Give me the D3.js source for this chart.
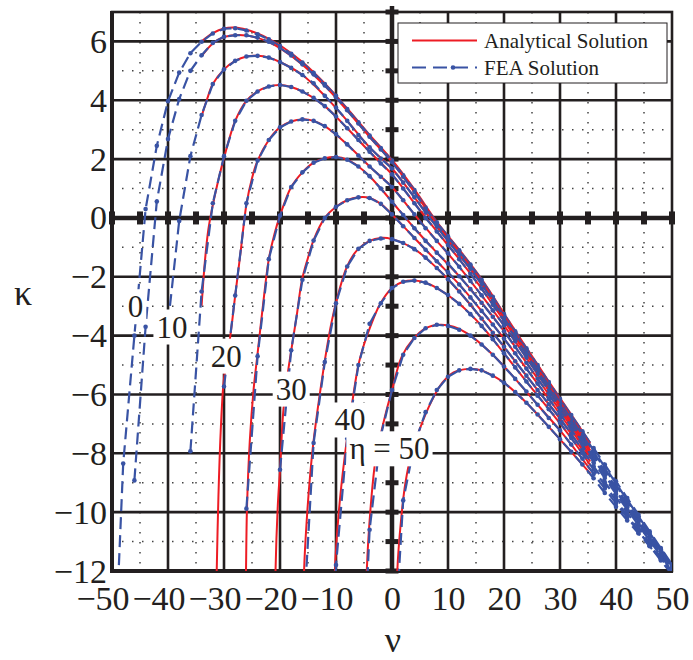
<!DOCTYPE html>
<html>
<head>
<meta charset="utf-8">
<script src="https://cdnjs.cloudflare.com/ajax/libs/d3/7.8.5/d3.min.js"></script>
<style>
  body { margin: 0; background: #fff; }
  svg text { font-family: "Liberation Serif", "Times New Roman", serif; fill: #231f20; }
</style>
</head>
<body>
<div id="chart"></div>
<script>
// eta values of the family of curves
var etaValues = [0, 5, 10, 15, 20, 25, 30, 35, 40, 45, 50];
var curveLabels = ["0", "10", "20", "30", "40", "\u03b7 = 50"];
var xTicks = [-50, -40, -30, -20, -10, 0, 10, 20, 30, 40, 50];
var yTicks = [-12, -10, -8, -6, -4, -2, 0, 2, 4, 6];
var legendNames = ["Analytical Solution", "FEA Solution"];

// FEA solution, sampled on a fixed nu grid (null = no point)
var nuFEA = [-50, -48, -46, -44, -42, -40, -38, -36, -34, -32, -30, -28, -26, -24, -22, -20, -18, -16, -14, -12, -10, -8, -6, -4, -2,
             0, 2, 4, 6, 8, 10, 12, 14, 16, 18, 20, 22, 24, 26, 28, 30, 32, 34, 36, 38, 40, 42, 44, 46, 48, 50];

var feaEta0 = [-17.3, -8.35, -4.0, 0.3, 2.45, 3.97, 4.94, 5.6, 5.99, 6.27, 6.43, 6.45, 6.37, 6.24, 6.07, 5.84, 5.58, 5.28, 4.93, 4.55, 4.15, 3.7, 3.25, 2.8, 2.38,
               1.95, 1.45, 0.95, 0.35, -0.15, -0.62, -1.1, -1.58, -2.1, -2.68, -3.27, -3.85, -4.43, -5.0, -5.58, -6.15, -6.7, -7.25, -7.82, -8.38, -8.95, -9.52, -10.08, -10.65, -11.22, -11.78];
var feaEta5 = [null, null, -8.92, -3.7, 0.56, 2.68, 4.04, 5.0, 5.53, 5.95, 6.16, 6.21, 6.21, 6.13, 5.99, 5.78, 5.52, 5.22, 4.88, 4.5, 4.1, 3.66, 3.21, 2.76, 2.33,
               1.9, 1.4, 0.88, 0.3, -0.2, -0.67, -1.15, -1.63, -2.16, -2.74, -3.33, -3.91, -4.49, -5.07, -5.64, -6.22, -6.77, -7.32, -7.9, -8.46, -9.02, -9.58, -10.14, -10.7, -11.26, -11.8];
var feaEta10 = [null, null, null, null, null, -3.6, -0.1, 2.1, 3.5, 4.55, 5.05, 5.34, 5.49, 5.51, 5.45, 5.3, 5.1, 4.86, 4.58, 4.15, 3.75, 3.3, 2.82, 2.4, 2.02,
                1.68, 1.2, 0.7, 0.18, -0.3, -0.78, -1.25, -1.73, -2.25, -2.82, -3.4, -3.98, -4.56, -5.13, -5.7, -6.28, -6.83, -7.38, -7.96, -8.52, -9.08, -9.63, -10.19, -10.74, -11.3, -11.83];
var feaEta15 = [null, null, null, null, null, null, null, -7.93, -2.5, 0.5, 2.1, 3.3, 3.98, 4.3, 4.47, 4.52, 4.45, 4.3, 4.08, 3.8, 3.45, 3.05, 2.65, 2.25, 1.85,
                1.48, 1.0, 0.5, 0.0, -0.46, -0.92, -1.4, -1.9, -2.4, -2.95, -3.5, -4.06, -4.63, -5.2, -5.78, -6.36, -6.92, -7.48, -8.05, -8.6, -9.15, -9.7, -10.25, -10.8, -11.35, -11.88];
var feaEta20 = [null, null, null, null, null, null, null, null, null, null, -5.73, -2.64, 0.5, 1.95, 2.65, 3.08, 3.28, 3.35, 3.3, 3.12, 2.85, 2.5, 2.12, 1.75, 1.4,
                1.05, 0.6, 0.12, -0.35, -0.78, -1.2, -1.66, -2.14, -2.63, -3.14, -3.65, -4.2, -4.75, -5.3, -5.87, -6.45, -7.0, -7.55, -8.12, -8.67, -9.22, -9.77, -10.31, -10.85, -11.39, -11.92];
var feaEta25 = [null, null, null, null, null, null, null, null, null, null, null, null, -9.88, -4.7, -1.4, 0.08, 1.05, 1.55, 1.88, 2.03, 2.07, 1.98, 1.75, 1.42, 1.0,
                0.55, 0.1, -0.35, -0.78, -1.18, -1.55, -1.98, -2.42, -2.88, -3.36, -3.85, -4.38, -4.92, -5.46, -6.0, -6.55, -7.09, -7.63, -8.2, -8.75, -9.29, -9.83, -10.37, -10.9, -11.43, -11.96];
var feaEta30 = [null, null, null, null, null, null, null, null, null, null, null, null, null, null, null, -8.56, -4.5, -2.1, -0.77, 0.0, 0.38, 0.6, 0.7, 0.68, 0.48,
                0.12, -0.28, -0.68, -1.08, -1.47, -1.85, -2.26, -2.7, -3.16, -3.62, -4.1, -4.6, -5.12, -5.63, -6.15, -6.66, -7.2, -7.74, -8.3, -8.84, -9.38, -9.91, -10.44, -10.96, -11.48, -12.0];
var feaEta35 = [null, null, null, null, null, null, null, null, null, null, null, null, null, null, null, null, null, -14.3, -7.65, -4.9, -2.9, -1.65, -1.05, -0.78, -0.7,
                -0.72, -0.85, -1.06, -1.35, -1.7, -2.08, -2.5, -2.95, -3.42, -3.9, -4.38, -4.87, -5.36, -5.85, -6.33, -6.8, -7.34, -7.88, -8.44, -8.98, -9.5, -10.02, -10.53, -11.04, -11.54, -12.05];
var feaEta40 = [null, null, null, null, null, null, null, null, null, null, null, null, null, null, null, null, null, null, null, -20, -11.8, -7.5, -5.0, -3.6, -2.9,
                -2.38, -2.17, -2.13, -2.2, -2.38, -2.62, -2.92, -3.27, -3.67, -4.12, -4.6, -5.08, -5.56, -6.04, -6.5, -6.96, -7.48, -8.0, -8.55, -9.08, -9.6, -10.12, -10.63, -11.14, -11.64, -12.12];
var feaEta45 = [null, null, null, null, null, null, null, null, null, null, null, null, null, null, null, null, null, null, null, null, null, null, -19, -10.6, -7.4,
                -5.85, -4.65, -4.08, -3.75, -3.63, -3.67, -3.8, -4.0, -4.3, -4.65, -5.05, -5.47, -5.9, -6.35, -6.8, -7.22, -7.7, -8.18, -8.7, -9.2, -9.7, -10.18, -10.65, -11.12, -11.58, -12.05];
var feaEta50 = [null, null, null, null, null, null, null, null, null, null, null, null, null, null, null, null, null, null, null, null, null, null, null, null, null,
                -16, -9.6, -7.7, -6.6, -5.85, -5.4, -5.18, -5.13, -5.18, -5.36, -5.6, -5.92, -6.28, -6.68, -7.1, -7.52, -7.95, -8.38, -8.85, -9.35, -9.82, -10.28, -10.72, -11.16, -11.58, -12.0];

// analytical solution, [nu, kappa] pairs
var anaEta0 = [[-34, 6.0], [-32, 6.28], [-30, 6.44], [-28, 6.47], [-26, 6.4], [-24, 6.27], [-22, 6.09], [-20, 5.87], [-16, 5.3], [-12, 4.57], [-8, 3.72], [-4, 2.82], [0, 1.97], [4, 0.97], [8, -0.13], [12, -1.08], [16, -2.08], [20, -3.25], [24, -4.41], [28, -5.56], [32, -6.68], [35.4, -7.65]];
var anaEta5 = [[-34, 5.5], [-32, 5.93], [-30, 6.15], [-28, 6.21], [-26, 6.2], [-24, 6.12], [-22, 5.98], [-20, 5.77], [-16, 5.21], [-12, 4.49], [-8, 3.65], [-4, 2.75], [0, 1.9], [4, 0.88], [8, -0.2], [12, -1.15], [16, -2.16], [20, -3.33], [24, -4.49], [28, -5.64], [32, -6.77], [35.4, -7.72]];
var anaEta10 = [[-34, 3.45], [-33, 4.05], [-32, 4.55], [-30, 5.05], [-28, 5.34], [-26, 5.49], [-24, 5.51], [-22, 5.45], [-20, 5.3], [-16, 4.86], [-12, 4.15], [-8, 3.3], [-4, 2.4], [0, 1.68], [4, 0.7], [8, -0.3], [12, -1.25], [16, -2.25], [20, -3.4], [24, -4.56], [28, -5.7], [32, -6.83], [35.4, -7.8]];
var anaEta15 = [[-34, -2.98], [-33.4, -1.45], [-32.8, -0.4], [-32.2, 0.25], [-31, 1.3], [-29.9, 2.11], [-28, 3.3], [-26, 3.98], [-24, 4.3], [-22, 4.47], [-20, 4.52], [-18, 4.45], [-16, 4.3], [-12, 3.8], [-8, 3.05], [-4, 2.25], [0, 1.48], [4, 0.5], [8, -0.46], [12, -1.4], [16, -2.4], [20, -3.5], [24, -4.63], [28, -5.78], [32, -6.92], [35.4, -7.9]];
var anaEta20 = [[-31.5, -14], [-31.3, -12], [-31.0, -9.5], [-30.6, -7.3], [-30.1, -5.64], [-29.5, -4.75], [-28.9, -4.05], [-28, -2.64], [-27, -1.1], [-26, 0.45], [-25, 1.35], [-24, 1.95], [-22, 2.65], [-20, 3.08], [-18, 3.28], [-16, 3.35], [-14, 3.3], [-12, 3.12], [-8, 2.5], [-4, 1.75], [0, 1.05], [4, 0.12], [8, -0.78], [12, -1.66], [16, -2.63], [20, -3.65], [24, -4.75], [28, -5.87], [32, -7.0], [35.4, -7.98]];
var anaEta25 = [[-26.2, -14], [-26.07, -12], [-25.9, -9.9], [-25.4, -7.6], [-24.7, -5.8], [-24, -4.6], [-23, -2.9], [-22, -1.4], [-21, -0.55], [-20, 0.08], [-18, 1.05], [-16, 1.55], [-14, 1.88], [-12, 2.03], [-10, 2.07], [-8, 1.98], [-6, 1.75], [-4, 1.42], [-2, 1.0], [0, 0.55], [4, -0.35], [8, -1.18], [12, -1.98], [16, -2.88], [20, -3.85], [24, -4.92], [28, -6.0], [32, -7.09], [35.4, -8.08]];
var anaEta30 = [[-20.9, -14], [-20.8, -12], [-20.4, -9.8], [-20, -8.56], [-19.4, -6.54], [-18.7, -5.4], [-17.9, -4.39], [-17, -3.3], [-16.1, -2.13], [-15, -1.35], [-14, -0.75], [-12, 0.0], [-10, 0.38], [-8, 0.6], [-6, 0.7], [-4, 0.68], [-2, 0.48], [0, 0.12], [4, -0.68], [8, -1.47], [12, -2.26], [16, -3.16], [20, -4.1], [24, -5.12], [28, -6.15], [32, -7.2], [35.4, -8.15]];
var anaEta35 = [[-15.8, -14], [-15.7, -12], [-15.2, -10.2], [-14.6, -8.7], [-14.05, -7.65], [-12.9, -6.0], [-11.7, -4.5], [-10.8, -3.55], [-9.9, -2.81], [-8.1, -1.68], [-6.3, -1.11], [-4, -0.78], [-2, -0.68], [0, -0.72], [4, -1.06], [8, -1.7], [12, -2.5], [16, -3.42], [20, -4.38], [24, -5.36], [28, -6.33], [32, -7.34], [35.4, -8.28]];
var anaEta40 = [[-10.3, -14], [-10.2, -12], [-9.5, -10], [-8.5, -8.2], [-7.2, -6.4], [-6, -5.0], [-5, -4.3], [-3.9, -3.71], [-2.1, -2.92], [0, -2.38], [2, -2.17], [4, -2.13], [6, -2.2], [8, -2.38], [12, -2.92], [16, -3.67], [20, -4.6], [24, -5.56], [28, -6.5], [32, -7.48], [35.4, -8.4]];
var anaEta45 = [[-4.6, -14], [-4.5, -12], [-3.8, -9.8], [-3, -8.3], [-2, -7.35], [-1, -6.55], [0, -5.85], [1.7, -4.73], [3.8, -4.11], [6, -3.75], [8.6, -3.63], [11, -3.7], [14, -4.0], [18, -4.65], [22, -5.47], [26, -6.35], [30, -7.22], [33, -7.95], [35.4, -8.55]];
var anaEta50 = [[0.85, -14], [0.95, -12], [1.6, -10.3], [2.4, -9.0], [3.5, -8.0], [5, -7.15], [7, -6.25], [9, -5.6], [11, -5.25], [13.6, -5.13], [16, -5.18], [18, -5.36], [20, -5.6], [24, -6.28], [28, -7.1], [32, -7.95], [35.4, -8.68]];

var feaSeries = [feaEta0, feaEta5, feaEta10, feaEta15, feaEta20, feaEta25, feaEta30, feaEta35, feaEta40, feaEta45, feaEta50];
var anaSeries = [anaEta0, anaEta5, anaEta10, anaEta15, anaEta20, anaEta25, anaEta30, anaEta35, anaEta40, anaEta45, anaEta50];

var width = 693,
    height = 660;

var ink = "#231f20",
    red = "#ed1c24",
    blue = "#3953a4",
    serif = "'Liberation Serif', 'Times New Roman', serif";

var x = d3.scaleLinear().domain([-50, 50]).range([112, 672]);
var y = d3.scaleLinear().domain([-12, 7]).range([571, 12]);

var svg = d3.select("#chart")
    .append("svg")
    .attr("width", width)
    .attr("height", height);

svg.append("rect").attr("width", width).attr("height", height).attr("fill", "#fff");

// dotted minor grid
var xMinor = d3.range(-45, 50, 10),
    yMinor = d3.range(-11, 7, 2);
var grid = svg.append("g");
grid.selectAll(".vminor").data(xMinor).enter().append("line")
    .attr("x1", function(d) { return x(d); }).attr("x2", function(d) { return x(d); })
    .attr("y1", y(7)).attr("y2", y(-12))
    .attr("stroke", "#444").attr("stroke-width", 1.5).attr("stroke-dasharray", "1.5,8.5");
grid.selectAll(".hminor").data(yMinor).enter().append("line")
    .attr("x1", x(-50)).attr("x2", x(50))
    .attr("y1", function(d) { return y(d); }).attr("y2", function(d) { return y(d); })
    .attr("stroke", "#444").attr("stroke-width", 1.5).attr("stroke-dasharray", "1.5,8.5");

// solid major grid
var xMajor = [-40, -30, -20, -10, 10, 20, 30, 40],
    yMajor = [-10, -8, -6, -4, -2, 2, 4, 6];
grid.selectAll(".vmajor").data(xMajor).enter().append("line")
    .attr("x1", function(d) { return x(d); }).attr("x2", function(d) { return x(d); })
    .attr("y1", y(7)).attr("y2", y(-12))
    .attr("stroke", ink).attr("stroke-width", 2.6);
grid.selectAll(".hmajor").data(yMajor).enter().append("line")
    .attr("x1", x(-50)).attr("x2", x(50))
    .attr("y1", function(d) { return y(d); }).attr("y2", function(d) { return y(d); })
    .attr("stroke", ink).attr("stroke-width", 2.6);

// frame
svg.append("rect")
    .attr("x", x(-50)).attr("y", y(7))
    .attr("width", x(50) - x(-50)).attr("height", y(-12) - y(7))
    .attr("fill", "none").attr("stroke", ink).attr("stroke-width", 2.6);
svg.append("line").attr("x1", x(-50)).attr("x2", x(-50)).attr("y1", y(7) - 1).attr("y2", y(-12) + 2)
    .attr("stroke", ink).attr("stroke-width", 4);
svg.append("line").attr("x1", x(-50) - 2).attr("x2", x(50) + 1).attr("y1", y(-12)).attr("y2", y(-12))
    .attr("stroke", ink).attr("stroke-width", 4);

// axes through the origin with their tick bars
var axes = svg.append("g");
axes.append("line").attr("x1", x(0)).attr("x2", x(0)).attr("y1", y(7) - 6).attr("y2", y(-12))
    .attr("stroke", ink).attr("stroke-width", 4.5);
axes.append("line").attr("x1", x(-50)).attr("x2", x(50) + 2).attr("y1", y(0)).attr("y2", y(0))
    .attr("stroke", ink).attr("stroke-width", 4.5);
axes.selectAll(".ytick").data(d3.range(-12, 8, 1)).enter().append("rect")
    .attr("x", x(0) - 6.5).attr("y", function(d) { return y(d) - 2.5; })
    .attr("width", 13).attr("height", 5).attr("fill", ink);
axes.selectAll(".xtick").data(d3.range(-50, 51, 5)).enter().append("rect")
    .attr("x", function(d) { return x(d) - 3; }).attr("y", y(0) - 6.5)
    .attr("width", 6).attr("height", 13).attr("fill", ink);

// curves
svg.append("clipPath").attr("id", "plotclip")
  .append("rect")
    .attr("x", x(-50)).attr("y", y(7))
    .attr("width", x(50) - x(-50)).attr("height", y(-12) - y(7));

var plot = svg.append("g").attr("clip-path", "url(#plotclip)");

var anaLine = d3.line()
    .x(function(d) { return x(d[0]); })
    .y(function(d) { return y(d[1]); })
    .curve(d3.curveCatmullRom.alpha(0.5));

var feaLine = d3.line()
    .defined(function(d) { return d[1] !== null; })
    .x(function(d) { return x(d[0]); })
    .y(function(d) { return y(d[1]); });

etaValues.forEach(function(eta, i) {
    var pts = nuFEA.map(function(nu, j) { return [nu, feaSeries[i][j]]; });

    plot.append("path")
        .attr("d", anaLine(anaSeries[i]))
        .attr("fill", "none")
        .attr("stroke", red)
        .attr("stroke-width", 2);

    plot.append("path")
        .attr("d", feaLine(pts))
        .attr("fill", "none")
        .attr("stroke", blue)
        .attr("stroke-width", 2.2)
        .attr("stroke-dasharray", "12,6");

    plot.selectAll(null)
        .data(pts.filter(function(d) { return d[1] !== null; }))
        .enter().append("circle")
        .attr("cx", function(d) { return x(d[0]); })
        .attr("cy", function(d) { return y(d[1]); })
        .attr("r", 2.3)
        .attr("fill", blue);
});

// curve labels on white boxes
var labelAt = [[-45.8, -3.0], [-39.3, -3.69], [-29.6, -4.68], [-18.0, -5.8], [-7.5, -6.85], [-0.45, -7.83]];
curveLabels.forEach(function(txt, i) {
    var g = svg.append("g");
    var t = g.append("text")
        .attr("x", x(labelAt[i][0]))
        .attr("y", y(labelAt[i][1]) + 11)
        .attr("text-anchor", "middle")
        .style("font-family", serif)
        .style("font-size", "31px")
        .text(txt);
    var bb = t.node().getBBox();
    g.insert("rect", "text")
        .attr("x", bb.x - 3).attr("y", bb.y)
        .attr("width", bb.width + 6).attr("height", bb.height)
        .attr("fill", "#fff");
});

// tick labels (negative numbers keep their digits centred on the tick)
var xAxis = svg.append("g")
    .attr("transform", "translate(0," + y(-12) + ")")
    .call(d3.axisBottom(x).tickValues(xTicks).tickSize(0));
xAxis.select(".domain").remove();
xAxis.selectAll("text")
    .attr("y", 39).attr("dy", null)
    .attr("dx", function(d) { return d < 0 ? "-0.28em" : null; })
    .style("font-family", serif)
    .style("font-size", "34px")
    .attr("fill", ink);

var yAxis = svg.append("g")
    .attr("transform", "translate(" + x(-50) + ",0)")
    .call(d3.axisLeft(y).tickValues(yTicks).tickSize(0));
yAxis.select(".domain").remove();
yAxis.selectAll("text")
    .attr("x", -5).attr("dy", null).attr("y", 11)
    .style("font-family", serif)
    .style("font-size", "34px")
    .attr("fill", ink);

// axis titles
svg.append("text")
    .attr("x", 23).attr("y", 305)
    .attr("text-anchor", "middle")
    .style("font-family", serif)
    .style("font-size", "36px")
    .text("\u03ba");
svg.append("text")
    .attr("x", 393).attr("y", 652)
    .attr("text-anchor", "middle")
    .style("font-family", serif)
    .style("font-size", "36px")
    .text("\u03bd");

// legend
var legend = svg.append("g");
legend.append("rect")
    .attr("x", 398).attr("y", 23).attr("width", 269).attr("height", 60)
    .attr("fill", "#fff").attr("stroke", ink).attr("stroke-width", 1);
legend.append("line")
    .attr("x1", 412).attr("x2", 477).attr("y1", 40.5).attr("y2", 40.5)
    .attr("stroke", red).attr("stroke-width", 2);
legend.append("line")
    .attr("x1", 412).attr("x2", 477).attr("y1", 67.5).attr("y2", 67.5)
    .attr("stroke", blue).attr("stroke-width", 2.2).attr("stroke-dasharray", "14,7");
legend.append("circle")
    .attr("cx", 453).attr("cy", 67.5).attr("r", 2.3).attr("fill", blue);
legend.selectAll(".lt").data(legendNames).enter().append("text")
    .attr("x", 484)
    .attr("y", function(d, i) { return 48 + i * 27; })
    .style("font-family", serif)
    .style("font-size", "21px")
    .text(function(d) { return d; });
</script>
</body>
</html>
